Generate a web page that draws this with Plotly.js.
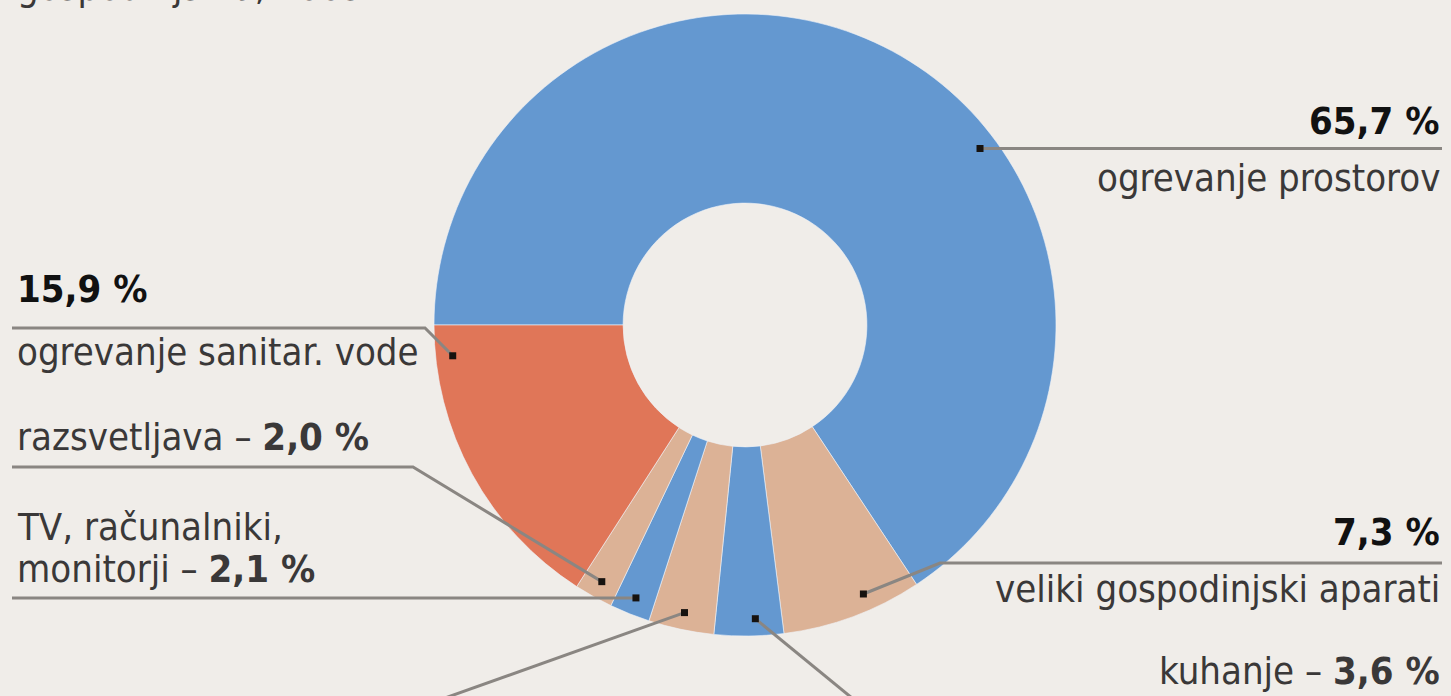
<!DOCTYPE html>
<html><head><meta charset="utf-8">
<script src="https://cdn.plot.ly/plotly-3.0.1.min.js"></script>
<style>html,body{margin:0;padding:0;background:#f0ede9;} #chart{width:1451px;height:696px;}</style>
</head><body><div id="chart"></div>
<script>
// ---- data ----
const categories = ['ogrevanje prostorov', 'veliki gospodinjski aparati', 'kuhanje', 'drugi porabniki', 'TV, računalniki, monitorji', 'razsvetljava', 'ogrevanje sanitar. vode'];
const values = [65.7, 7.3, 3.6, 3.4, 2.1, 2.0, 15.9];
const sliceColors = ['#6498d0', '#dcb296', '#6498d0', '#dcb296', '#6498d0', '#dcb296', '#e07658'];
const titleText = 'gospodinjstva, 2009';

// ---- layout constants (pixels) ----
const W = 1451, H = 696;
const CX = 745, CY = 325, R = 311, HOLE = 0.392;
const DOTR = 0.945 * R;
const anchorFrac = [0.605, 0.37, 0.4, 0.5, 0.5, 0.5, 0.895];
const FONT = 'DejaVu Sans Condensed, DejaVu Sans, sans-serif';
const FS = 38;
const LINE = '#8a8682';
const TXT = '#3a3838';

const fmt = v => v.toFixed(1).replace('.', ',') + ' %';

// dot positions derived from cumulative values
const total = values.reduce((a, b) => a + b, 0);
let cum = 0;
const dots = values.map((v, i) => {
  const a0 = 270 + cum / total * 360;
  cum += v;
  const ang = (a0 + anchorFrac[i] * v / total * 360) * Math.PI / 180;
  return [CX + DOTR * Math.sin(ang), CY - DOTR * Math.cos(ang)];
});

function txt(x, baseline, text, anchor, color) {
  return {x: x, y: baseline + FS * 0.22, xref: 'x', yref: 'y', xanchor: anchor, yanchor: 'bottom',
    text: text, showarrow: false, font: {family: FONT, size: FS, color: color || TXT}};
}
function path(pts) {
  return {type: 'path', xref: 'x', yref: 'y', layer: 'above', line: {color: LINE, width: 3},
    path: pts.map((p, k) => (k ? 'L' : 'M') + p[0].toFixed(1) + ',' + p[1].toFixed(1)).join(' ')};
}
function dot(p) {
  return {type: 'rect', xref: 'x', yref: 'y', layer: 'above', x0: p[0] - 3.5, x1: p[0] + 3.5, y0: p[1] - 3.5, y1: p[1] + 3.5,
    fillcolor: '#16120f', line: {width: 0}};
}
const b = i => '<b>' + fmt(values[i]) + '</b>';

const annotations = [
  txt(15, 3, titleText, 'left'),
  // 0 ogrevanje prostorov
  txt(1442, 137, b(0), 'right', '#111'),
  txt(1442, 194, categories[0], 'right'),
  // 6 sanitar
  txt(15, 305, b(6), 'left', '#111'),
  txt(15, 368, categories[6], 'left'),
  // 5 razsvetljava
  txt(15, 453, categories[5] + ' – ' + b(5), 'left'),
  // 4 TV
  txt(15, 543, categories[4].split(' monitorji')[0], 'left'),
  txt(15, 585, 'monitorji – ' + b(4), 'left'),
  // 3 drugi
  txt(15, 688, categories[3] + ' – ' + b(3), 'left'),
  // 1 veliki
  txt(1442, 548, b(1), 'right', '#111'),
  txt(1442, 605, categories[1], 'right'),
  // 2 kuhanje
  txt(1442, 687, categories[2] + ' – ' + b(2), 'right')
];

const shapes = [
  path([dots[0], [1442, dots[0][1]]]),
  path([dots[6], [425, 328], [12, 328]]),
  path([dots[5], [413, 467], [12, 467]]),
  path([dots[4], [12, dots[4][1]]]),
  path([dots[3], [445, 698]]),
  path([dots[2], [852, 698]]),
  path([dots[1], [940, 563], [1442, 563]])
].concat(dots.map(dot));

const pie = {
  type: 'pie', values: values, labels: categories, sort: false, direction: 'clockwise', rotation: -90,
  hole: HOLE, textinfo: 'none', hoverinfo: 'label+percent', showlegend: false,
  marker: {colors: sliceColors, line: {color: 'rgba(240,244,248,0.6)', width: 1}},
  domain: {x: [(CX - R) / W, (CX + R) / W], y: [1 - (CY + R) / H, 1 - (CY - R) / H]}
};
const axisAnchor = {
  type: 'scatter', mode: 'none', x: [0, W], y: [0, H], hoverinfo: 'skip', showlegend: false
};

const layout = {
  width: W, height: H, margin: {l: 0, r: 0, t: 0, b: 0},
  paper_bgcolor: '#f0ede9', plot_bgcolor: 'rgba(0,0,0,0)',
  xaxis: {range: [0, W], visible: false, fixedrange: true},
  yaxis: {range: [H, 0], visible: false, fixedrange: true},
  annotations: annotations, shapes: shapes, showlegend: false
};
Plotly.newPlot('chart', [pie, axisAnchor], layout, {displayModeBar: false, staticPlot: true});
</script></body></html>
